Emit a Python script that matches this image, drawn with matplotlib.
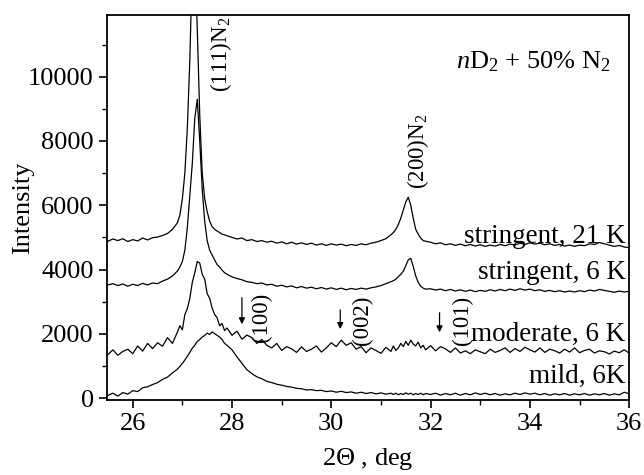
import numpy as np
import matplotlib
matplotlib.use('Agg')
import matplotlib.pyplot as plt

plt.rcParams['font.family'] = 'Liberation Serif'
plt.rcParams['mathtext.fontset'] = 'custom'
plt.rcParams['mathtext.rm'] = 'Liberation Serif'
plt.rcParams['mathtext.it'] = 'Liberation Serif:italic'

# 2theta sampling grid (finer around the two N2 reflections)
two_theta = np.round(np.concatenate([
    np.arange(25.5, 26.95, 0.1),
    np.arange(26.95, 27.95, 0.05),
    np.arange(28.0, 31.25, 0.1),
    np.arange(31.25, 31.95, 0.05),
    np.arange(32.0, 36.05, 0.1),
]), 2)

stringent_21K = [
    4880, 4950, 4900, 4960, 4870, 4930, 4890, 4980, 4920, 4990, 5010, 5060, 5120, 5250, 5450,
    5700, 6200, 7000, 8400, 10500, 13500, 14000, 11500, 8800, 7000, 6200, 5800, 5500, 5330, 5250,
    5200, 5150, 5100, 5080, 5050,
    5000, 4950, 4980, 4900, 4930, 4870, 4900, 4850, 4880, 4820, 4860, 4800, 4850, 4790, 4830, 4780,
    4820, 4760, 4800, 4750, 4800, 4760, 4790, 4740, 4780, 4750, 4800, 4770, 4820, 4850, 4900, 4960, 5080,
    5150, 5250, 5400, 5600, 5850, 6100, 6250, 6000, 5600, 5250, 5100, 4980, 4900, 4880,
    4850, 4800, 4830, 4770, 4800, 4750, 4790, 4740, 4780, 4730, 4770, 4720, 4760, 4730, 4780, 4740,
    4790, 4760, 4820, 4780, 4830, 4790, 4820, 4770, 4800, 4750, 4780, 4730, 4760, 4720, 4760, 4740,
    4800, 4780, 4840, 4800, 4760, 4720, 4750, 4700, 4680,
]

stringent_6K = [
    3520, 3560, 3500, 3550, 3480, 3540, 3500, 3570, 3520, 3580, 3560, 3640, 3700, 3800, 3950,
    4080, 4250, 4600, 5300, 6300, 7300, 8700, 9300, 8000, 6500, 5500, 4900, 4600, 4450, 4300,
    4150, 4080, 3980, 3900, 3850,
    3770, 3720, 3680, 3620, 3600, 3560, 3580, 3520, 3540, 3480, 3510, 3460, 3490, 3430, 3470, 3420,
    3450, 3400, 3440, 3390, 3430, 3380, 3420, 3370, 3410, 3380, 3420, 3390, 3430, 3460, 3500, 3560, 3620,
    3650, 3700, 3780, 3850, 3950, 4120, 4300, 4350, 4100, 3800, 3600, 3480, 3420, 3390,
    3400, 3360, 3390, 3340, 3380, 3330, 3370, 3320, 3360, 3310, 3350, 3320, 3370, 3330, 3380, 3340,
    3390, 3350, 3400, 3360, 3390, 3340, 3370, 3320, 3350, 3310, 3340, 3300, 3330, 3300, 3340, 3310,
    3360, 3330, 3380, 3350, 3320, 3290, 3330, 3300, 3320,
]

moderate_6K = [
    1350, 1500, 1330, 1450, 1520, 1380, 1620, 1460, 1700, 1540, 1720, 1610, 1880, 1700, 2050,
    2250, 2120, 2600, 2780, 3100, 3600, 3900, 4250, 4200, 3850, 3700, 3250, 3100, 2800, 2600,
    2500, 2250, 2320, 2100, 2180,
    1950, 2080, 1830, 1960, 1880, 1700, 1820, 1640, 1560, 1700, 1480, 1600, 1530, 1420, 1590, 1450,
    1520, 1620, 1430, 1560, 1720, 1600, 1800, 1640, 1720, 1520, 1600, 1410, 1560, 1480, 1390, 1580, 1450,
    1620, 1480, 1560, 1700, 1600, 1760, 1640, 1800, 1680, 1620, 1740, 1560, 1640, 1500,
    1630, 1470, 1600, 1530, 1420, 1560, 1400, 1470, 1380, 1500, 1440, 1380, 1520, 1420, 1480, 1560,
    1420, 1540, 1450, 1580, 1500, 1430, 1560, 1420, 1520, 1470, 1400, 1520, 1430, 1560, 1410, 1480,
    1520, 1400, 1470, 1440, 1370, 1460, 1410, 1500, 1400,
]

mild_6K = [
    80, 150, 60, 170, 120, 230, 200, 320, 350, 420, 480, 580, 650, 780, 900,
    980, 1080, 1180, 1300, 1420, 1550, 1640, 1760, 1820, 1900, 1950, 2020, 1980, 2060, 2000,
    1950, 1900, 1820, 1700, 1640,
    1500, 1280, 1080, 880, 760, 660, 600, 520, 480, 430, 400, 360, 340, 300, 290, 250,
    260, 230, 240, 200, 220, 180, 210, 170, 190, 150, 180, 140, 170, 130, 160, 120, 150,
    110, 150, 100, 140, 110, 160, 120, 150, 100, 140, 110, 150, 100, 140,
    110, 150, 90, 140, 100, 150, 90, 140, 100, 160, 110, 150, 100, 140, 90, 130,
    100, 150, 110, 160, 120, 150, 100, 140, 90, 130, 100, 140, 90, 130, 100, 140,
    90, 130, 100, 140, 90, 130, 100, 180, 130,
]

curve_labels = ['stringent, 21 K', 'stringent, 6 K', 'moderate, 6 K', 'mild, 6K']
curve_label_y = [0.423, 0.330, 0.169, 0.060]

# hcp reflections marked with arrows on the moderate curve
hcp_labels = ['(100)', '(002)', '(101)']
arrow_x = [28.2, 30.18, 32.18]
arrow_start = [3210, 2830, 2740]
arrow_end = [2210, 2060, 1960]
hcp_label_x = [28.6, 30.62, 32.64]
hcp_label_y = [2520, 2430, 2400]

fig = plt.figure(figsize=(6.44, 4.75), dpi=100)
ax = fig.add_axes([0.166, 0.158, 0.811, 0.811])

for series in [stringent_21K, stringent_6K, moderate_6K, mild_6K]:
    ax.plot(two_theta, series, color='black', linewidth=0.9)

for lab, yy in zip(curve_labels, curve_label_y):
    ax.text(0.993, yy, lab, transform=ax.transAxes, ha='right', va='center', size=19.5)

for xa, y0, y1 in zip(arrow_x, arrow_start, arrow_end):
    ax.annotate('', xy=(xa, y1), xytext=(xa, y0),
                arrowprops=dict(arrowstyle='-|>', color='black', lw=0.9, mutation_scale=9))
for lab, xl, yl in zip(hcp_labels, hcp_label_x, hcp_label_y):
    ax.text(xl, yl, lab, rotation=90, ha='center', va='center', size=16.5)

ax.text(27.78, 10700, r'(111)N$_2$', rotation=90, ha='center', va='center', size=16.5)
ax.text(31.74, 7690, r'(200)N$_2$', rotation=90, ha='center', va='center', size=16.5)
ax.text(0.965, 0.878, r'$n$D$_2$ + 50% N$_2$', transform=ax.transAxes,
        ha='right', va='center', size=19)

ax.set_xlim(25.48, 36)
ax.set_ylim(-60, 11930)
ax.set_xticks([26, 28, 30, 32, 34, 36])
ax.set_xticks([27, 29, 31, 33, 35], minor=True)
ax.set_yticks([0, 2000, 4000, 6000, 8000, 10000])
ax.set_yticks([1000, 3000, 5000, 7000, 9000, 11000], minor=True)
ax.tick_params(which='major', direction='out', length=6, width=1.2, labelsize=19)
ax.tick_params(which='minor', direction='out', length=3.5, width=1.0)
for sp in ax.spines.values():
    sp.set_linewidth(1.3)

ax.set_xlabel(r'2$\Theta$ , deg', size=19, labelpad=8)
ax.set_ylabel('Intensity', size=19)
ax.yaxis.set_label_coords(-0.14, 0.5)

fig.savefig('out.png', dpi=100)
